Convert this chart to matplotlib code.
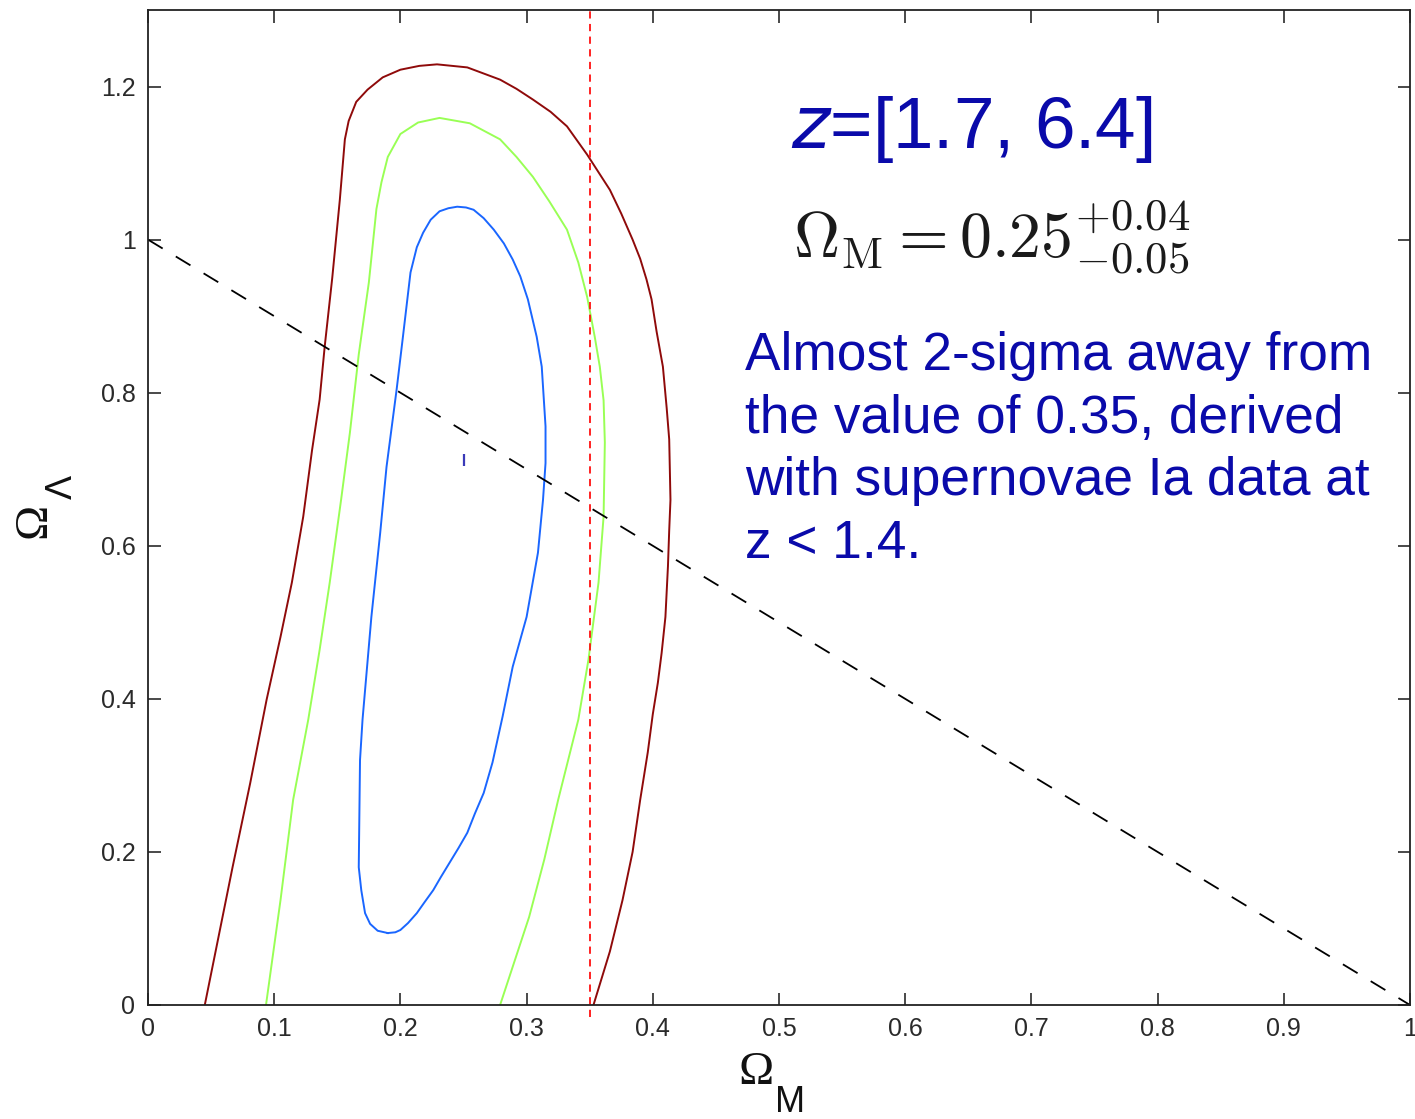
import numpy as np
import matplotlib.pyplot as plt

# contour levels (Omega_M, Omega_Lambda)
red_x = [0.045, 0.056, 0.067, 0.081, 0.094, 0.105, 0.114, 0.123, 0.130, 0.136, 0.140, 0.146,
         0.152, 0.156, 0.159, 0.165, 0.174, 0.186, 0.200, 0.215, 0.229, 0.253, 0.279, 0.292,
         0.305, 0.319, 0.332, 0.348, 0.357, 0.366, 0.375, 0.384, 0.390, 0.395, 0.399, 0.403,
         0.408, 0.411, 0.413, 0.414, 0.413, 0.412, 0.410, 0.407, 0.404, 0.400, 0.396, 0.390,
         0.384, 0.376, 0.366, 0.353]
red_y = [0.000, 0.090, 0.180, 0.290, 0.399, 0.481, 0.552, 0.638, 0.725, 0.791, 0.860, 0.950,
         1.052, 1.131, 1.155, 1.180, 1.196, 1.212, 1.222, 1.227, 1.229, 1.225, 1.209, 1.197,
         1.183, 1.167, 1.148, 1.111, 1.088, 1.065, 1.034, 1.000, 0.975, 0.948, 0.922, 0.880,
         0.834, 0.780, 0.739, 0.660, 0.620, 0.573, 0.507, 0.460, 0.421, 0.380, 0.330, 0.268,
         0.200, 0.137, 0.070, 0.000]

green_x = [0.0935, 0.105, 0.115, 0.127, 0.136, 0.144, 0.153, 0.160, 0.167, 0.175, 0.181, 0.185,
           0.190, 0.200, 0.214, 0.231, 0.255, 0.279, 0.292, 0.305, 0.318, 0.332, 0.341, 0.348,
           0.354, 0.358, 0.361, 0.362, 0.361, 0.357, 0.349, 0.341, 0.325, 0.314, 0.302, 0.279]
green_y = [0.000, 0.137, 0.268, 0.373, 0.464, 0.552, 0.660, 0.748, 0.850, 0.944, 1.040, 1.075,
           1.108, 1.138, 1.153, 1.159, 1.152, 1.131, 1.108, 1.082, 1.050, 1.013, 0.970, 0.925,
           0.873, 0.834, 0.790, 0.735, 0.638, 0.552, 0.451, 0.373, 0.268, 0.190, 0.115, 0.000]

blue_x = [0.190, 0.182, 0.176, 0.172, 0.169, 0.167, 0.168, 0.170, 0.177, 0.184, 0.189, 0.197,
          0.202, 0.208, 0.213, 0.218, 0.224, 0.231, 0.238, 0.245, 0.252, 0.258, 0.266, 0.274,
          0.282, 0.289, 0.295, 0.301, 0.308, 0.312, 0.315, 0.315, 0.313, 0.309, 0.300, 0.289,
          0.281, 0.273, 0.266, 0.259, 0.253, 0.246, 0.239, 0.232, 0.226, 0.219, 0.213, 0.206,
          0.200, 0.196, 0.190]
blue_y = [0.094, 0.097, 0.106, 0.120, 0.150, 0.180, 0.320, 0.373, 0.507, 0.617, 0.703, 0.804,
          0.873, 0.957, 0.990, 1.009, 1.026, 1.037, 1.041, 1.043, 1.042, 1.039, 1.028, 1.013,
          0.995, 0.974, 0.952, 0.922, 0.873, 0.834, 0.756, 0.708, 0.660, 0.591, 0.507, 0.442,
          0.377, 0.317, 0.277, 0.250, 0.225, 0.205, 0.186, 0.167, 0.150, 0.134, 0.120, 0.107,
          0.098, 0.095, 0.094]

best_fit = (0.25, 0.712)
sn_value = 0.35
flat_x = [0.0, 1.0]
flat_y = [1.0, 0.0]

xticks = np.round(np.arange(0, 1.01, 0.1), 1)
xticklabels = ['0', '0.1', '0.2', '0.3', '0.4', '0.5', '0.6', '0.7', '0.8', '0.9', '1']
yticks = [0, 0.2, 0.4, 0.6, 0.8, 1.0, 1.2]
yticklabels = ['0', '0.2', '0.4', '0.6', '0.8', '1', '1.2']

title_txt = 'z=[1.7, 6.4]'
note_lines = ['Almost 2-sigma away from',
              'the value of 0.35, derived',
              'with supernovae Ia data at',
              'z < 1.4.']

W, H = 1415, 1119
fig = plt.figure(figsize=(W / 100, H / 100), dpi=100)
ax = fig.add_axes([148 / W, 114 / H, 1262 / W, 995 / H])

ax.plot(red_x, red_y, color='#8f0a0a', lw=1.4)
ax.plot(green_x, green_y, color='#99ff55', lw=1.4)
ax.plot(blue_x, blue_y, color='#1a66ff', lw=1.4)
ax.plot([best_fit[0]], [best_fit[1]], marker='|', ms=8, mew=1.6, color='#3a3ab8', ls='none')

ax.plot(flat_x, flat_y, color='black', lw=1.3, dashes=(9.5, 8.5))
ax.plot([sn_value, sn_value], [-0.016, 1.3], color='#ff1010', lw=1.3, dashes=(4, 3), clip_on=False)

ax.set_xlim(0, 1)
ax.set_ylim(0, 1.3)
ax.set_xticks(xticks)
ax.set_xticklabels(xticklabels)
ax.set_yticks(yticks)
ax.set_yticklabels(yticklabels)
ax.tick_params(direction='in', length=9, width=1.2, top=True, right=True,
               labelsize=18, colors='#2a2a2a', pad=9)
for lab in ax.get_xticklabels() + ax.get_yticklabels():
    lab.set_family('Liberation Sans')
for s in ax.spines.values():
    s.set_linewidth(1.3)
    s.set_color('#222222')

# axis labels: serif Omega with a big, low sans subscript
fig.text(756 / W, 1 - 1073 / H, '\u03a9', fontsize=34, ha='center', va='center',
         family='Liberation Serif', color='#111111')
fig.text(790 / W, 1 - 1102 / H, 'M', fontsize=26, ha='center', va='center',
         family='Liberation Sans', color='#111111')
fig.text(34 / W, 1 - 520 / H, '\u03a9', fontsize=34, ha='center', va='center', rotation=90,
         family='Liberation Serif', color='#111111')
fig.text(62 / W, 1 - 487 / H, '\u039b', fontsize=26, ha='center', va='center', rotation=90,
         family='Liberation Sans', color='#111111')

blue = '#0a0aaa'
fig.text(791 / W, 1 - 148 / H, r'$\it{z}$' + title_txt[1:], fontsize=52.5, color=blue,
         family='Liberation Sans', va='baseline', ha='left')
fig.text(793 / W, 1 - 258 / H, r'$\Omega_{\rm M} = 0.25^{+0.04}_{-0.05}$', fontsize=46,
         math_fontfamily='cm', color='#1a1a1a', va='baseline', ha='left')
for i, line in enumerate(note_lines):
    fig.text(745 / W, 1 - (370 + 62.7 * i) / H, line, fontsize=38.3, color=blue,
             family='Liberation Sans', va='baseline', ha='left')

fig.savefig('out.png', dpi=100)
